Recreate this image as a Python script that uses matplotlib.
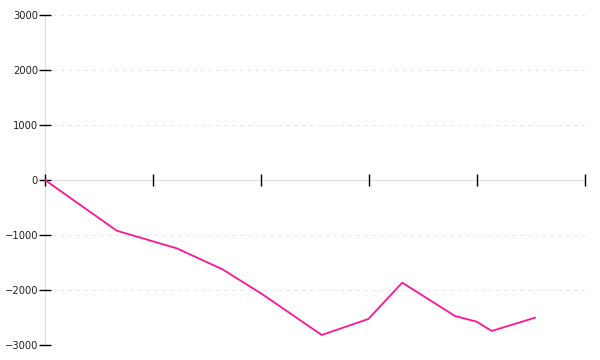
import numpy as np
import matplotlib
matplotlib.use("Agg")
from matplotlib import pyplot as plt

# dane
x_vals = [0.0, 0.664, 1.219, 1.644, 2.009, 2.562, 2.994, 3.308, 3.796, 3.997, 4.136, 4.537]
y_vals = [0, -922, -1242, -1625, -2073, -2818, -2527, -1867, -2473, -2576, -2745, -2504]
x_ticks = [0, 1, 2, 3, 4, 5]
y_ticks = [-3000, -2000, -1000, 0, 1000, 2000, 3000]

fig = plt.figure(figsize=(6, 3.6), dpi=100)
ax = fig.add_axes([0.075, 0.0417, 0.9, 0.9167])

# siatka pozioma
for yt in y_ticks:
    if yt != 0:
        ax.axhline(yt, color='#e6e6e6', linewidth=0.8, linestyle=(0, (3, 4)), zorder=0)

ax.plot(x_vals, y_vals, color='#ff1493', linewidth=1.3, zorder=3)

ax.set_xlim(0, 5)
ax.set_ylim(-3000, 3000)

ax.spines['top'].set_visible(False)
ax.spines['right'].set_visible(False)
ax.spines['bottom'].set_position(('data', 0))
for s in ('bottom', 'left'):
    ax.spines[s].set_color('#dddddd')
    ax.spines[s].set_zorder(1)

ax.set_xticks(x_ticks)
ax.set_xticklabels([])
ax.set_yticks(y_ticks)
ax.tick_params(axis='x', direction='inout', length=8, width=1, color='black')
ax.tick_params(axis='y', direction='inout', length=8, width=1, color='black',
               labelsize=7.2, labelcolor='#222222', pad=1)

fig.savefig('out.png', dpi=100)
